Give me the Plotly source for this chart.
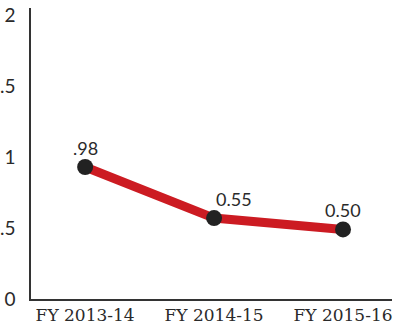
import plotly.graph_objects as go

categories = ["FY 2013-14", "FY 2014-15", "FY 2015-16"]
values = [0.93, 0.57, 0.49]
value_labels = [".98", "0.55", "0.50"]
label_anchor = ["center", "left", "center"]
y_ticks = [0, 0.5, 1, 1.5, 2]
y_tick_text = ["0", "0.5", "1", "1.5", "2"]

fig = go.Figure()
fig.add_trace(go.Scatter(
    x=list(range(len(categories))),
    y=values,
    mode="lines+markers",
    line=dict(color="#cc1b22", width=9),
    marker=dict(color="#222222", size=16),
    cliponaxis=False,
    hoverinfo="skip",
))

for i, (v, lab, anc) in enumerate(zip(values, value_labels, label_anchor)):
    fig.add_annotation(
        x=i, y=v, text=lab, showarrow=False,
        xanchor=anc, yanchor="bottom", yshift=6, xshift=0,
        font=dict(family="Lato", size=18, color="#2a2a2a"),
    )

fig.update_layout(
    width=400, height=328,
    margin=dict(l=31, r=8, t=8, b=29),
    paper_bgcolor="white", plot_bgcolor="white",
    showlegend=False,
    xaxis=dict(
        range=[-0.42, 2.38],
        tickvals=list(range(len(categories))),
        ticktext=categories,
        showgrid=False, zeroline=False,
        showline=True, linecolor="#333333", linewidth=1.5,
        ticks="", tickfont=dict(family="DejaVu Serif", size=17, color="#2a2a2a"),
        automargin=False,
    ),
    yaxis=dict(
        range=[0, 2.05],
        tickvals=y_ticks,
        ticktext=y_tick_text,
        showgrid=False, zeroline=False,
        showline=True, linecolor="#333333", linewidth=1.5,
        ticks="outside", ticklen=10, tickcolor="rgba(0,0,0,0)",
        tickfont=dict(family="Lato", size=19, color="#2a2a2a"),
        automargin=False,
    ),
)

fig.write_html("out.html")
